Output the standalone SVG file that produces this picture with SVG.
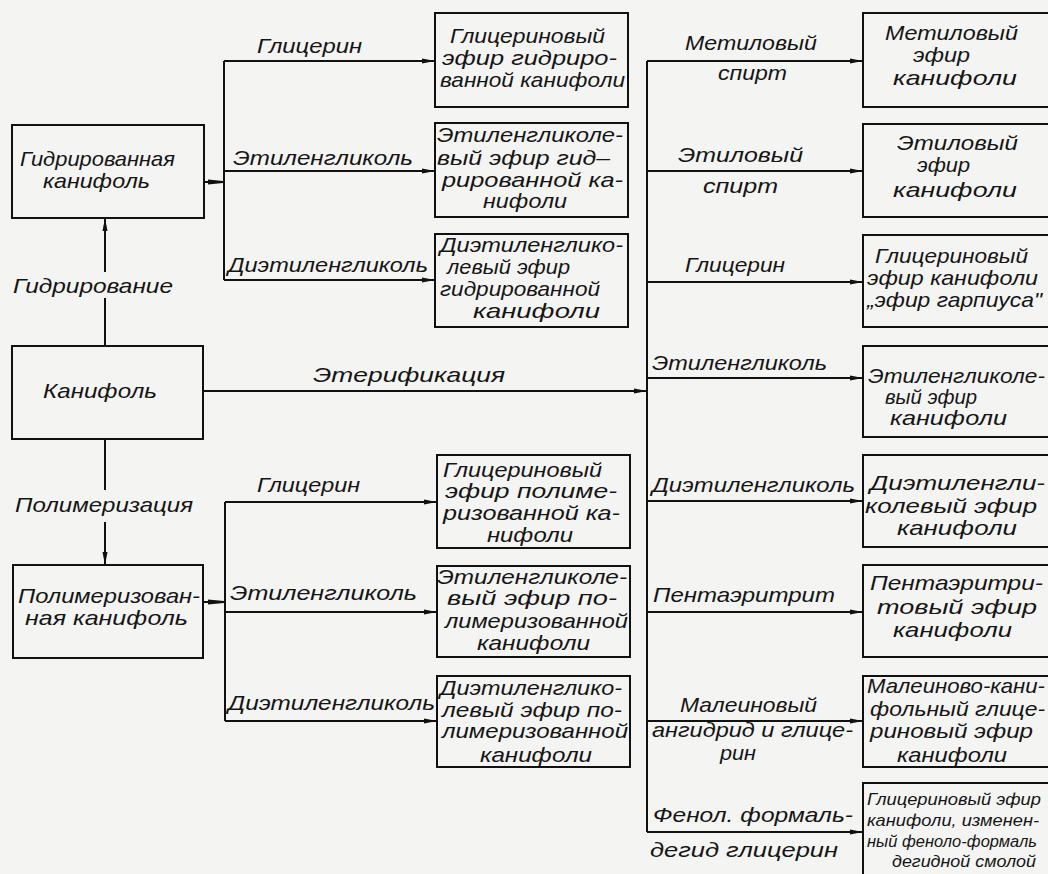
<svg xmlns="http://www.w3.org/2000/svg" width="1048" height="874" viewBox="0 0 1048 874">
<defs>
<marker id="ah" markerUnits="userSpaceOnUse" markerWidth="14" markerHeight="8" refX="13" refY="4" orient="auto">
<path d="M0,1.5 L13,4 L0,6.5 z" fill="#111"/>
</marker>
<style>
.bg{fill:#f4f4f2}
.box{fill:none;stroke:#111;stroke-width:2}
.ln{fill:none;stroke:#111;stroke-width:2}
.stub{fill:#111}
text{font-family:"Liberation Sans","DejaVu Sans",sans-serif;font-style:italic;font-size:21px;fill:#151515}
.sm{font-size:17px}
</style>
</defs>
<rect class="bg" x="0" y="0" width="1048" height="874"/>

<g id="connectors">
<path class="ln" d="M204,182 H224 M224,61 V280"/>
<polygon class="stub" points="208,179.5 223,181 223,183 208,184.5"/>
<path class="ln" marker-end="url(#ah)" d="M224,61 H435"/>
<path class="ln" marker-end="url(#ah)" d="M224,171 H435"/>
<path class="ln" marker-end="url(#ah)" d="M224,280 H435"/>

<path class="ln" d="M204,602 H225 M225,502 V721"/>
<polygon class="stub" points="208,599.5 224,601 224,603 208,604.5"/>
<path class="ln" marker-end="url(#ah)" d="M225,502 H437"/>
<path class="ln" marker-end="url(#ah)" d="M225,612 H437"/>
<path class="ln" marker-end="url(#ah)" d="M225,721 H437"/>

<path class="ln" d="M105,346 V298"/>
<path class="ln" marker-end="url(#ah)" d="M105,272 V218"/>
<path class="ln" d="M105,439 V490"/>
<path class="ln" marker-end="url(#ah)" d="M105,522 V565"/>

<path class="ln" marker-end="url(#ah)" d="M204,391 H647"/>
<path class="ln" d="M647,61 V832"/>
<path class="ln" marker-end="url(#ah)" d="M647,61 H863"/>
<path class="ln" marker-end="url(#ah)" d="M647,171 H863"/>
<path class="ln" marker-end="url(#ah)" d="M647,282 H863"/>
<path class="ln" marker-end="url(#ah)" d="M647,378 H863"/>
<path class="ln" marker-end="url(#ah)" d="M647,501 H863"/>
<path class="ln" marker-end="url(#ah)" d="M647,612 H863"/>
<path class="ln" marker-end="url(#ah)" d="M647,721 H863"/>
<path class="ln" marker-end="url(#ah)" d="M647,832 H863"/>

<g id="edge-labels">
<text x="257" y="53" textLength="105" lengthAdjust="spacingAndGlyphs">Глицерин</text>
<text x="233" y="165" textLength="180" lengthAdjust="spacingAndGlyphs">Этиленгликоль</text>
<text x="228" y="272" textLength="200" lengthAdjust="spacingAndGlyphs">Диэтиленгликоль</text>
<text x="13" y="293" textLength="160" lengthAdjust="spacingAndGlyphs">Гидрирование</text>
<text x="313" y="382" textLength="192" lengthAdjust="spacingAndGlyphs">Этерификация</text>
<text x="15" y="512" textLength="178" lengthAdjust="spacingAndGlyphs">Полимеризация</text>
<text x="257" y="492" textLength="103" lengthAdjust="spacingAndGlyphs">Глицерин</text>
<text x="230" y="600" textLength="187" lengthAdjust="spacingAndGlyphs">Этиленгликоль</text>
<text x="228" y="710" textLength="207" lengthAdjust="spacingAndGlyphs">Диэтиленгликоль</text>

<text x="685" y="50" textLength="132" lengthAdjust="spacingAndGlyphs">Метиловый</text>
<text x="718" y="80" textLength="69" lengthAdjust="spacingAndGlyphs">спирт</text>
<text x="678" y="162" textLength="125" lengthAdjust="spacingAndGlyphs">Этиловый</text>
<text x="703" y="193" textLength="75" lengthAdjust="spacingAndGlyphs">спирт</text>
<text x="685" y="272" textLength="100" lengthAdjust="spacingAndGlyphs">Глицерин</text>
<text x="652" y="370" textLength="175" lengthAdjust="spacingAndGlyphs">Этиленгликоль</text>
<text x="652" y="492" textLength="203" lengthAdjust="spacingAndGlyphs">Диэтиленгликоль</text>
<text x="653" y="602" textLength="182" lengthAdjust="spacingAndGlyphs">Пентаэритрит</text>
<text x="680" y="712" textLength="137" lengthAdjust="spacingAndGlyphs">Малеиновый</text>
<text x="652" y="737" textLength="201" lengthAdjust="spacingAndGlyphs">ангидрид и глице-</text>
<text x="720" y="760" textLength="36" lengthAdjust="spacingAndGlyphs">рин</text>
<text x="653" y="822" textLength="200" lengthAdjust="spacingAndGlyphs">Фенол. формаль-</text>
<text x="650" y="857" textLength="188" lengthAdjust="spacingAndGlyphs">дегид глицерин</text>
</g>
</g>

<g id="n-hydro">
<rect class="box" x="12" y="125" width="192" height="93"/>
<text x="20" y="166" textLength="155" lengthAdjust="spacingAndGlyphs">Гидрированная</text>
<text x="43" y="188" textLength="107" lengthAdjust="spacingAndGlyphs">канифоль</text>
</g>
<g id="n-rosin">
<rect class="box" x="12" y="346" width="191" height="93"/>
<text x="43" y="398" textLength="114" lengthAdjust="spacingAndGlyphs">Канифоль</text>
</g>
<g id="n-poly">
<rect class="box" x="13" y="565" width="190" height="93"/>
<text x="18" y="603" textLength="182" lengthAdjust="spacingAndGlyphs">Полимеризован-</text>
<text x="25" y="625" textLength="163" lengthAdjust="spacingAndGlyphs">ная канифоль</text>
</g>

<g id="m1">
<rect class="box" x="435" y="13" width="193" height="94"/>
<text x="450" y="43" textLength="155" lengthAdjust="spacingAndGlyphs">Глицериновый</text>
<text x="442" y="65" textLength="175" lengthAdjust="spacingAndGlyphs">эфир гидриро-</text>
<text x="440" y="87" textLength="185" lengthAdjust="spacingAndGlyphs">ванной канифоли</text>
</g>
<g id="m2">
<rect class="box" x="435" y="123" width="193" height="94"/>
<text x="437" y="142" textLength="186" lengthAdjust="spacingAndGlyphs">Этиленгликоле-</text>
<text x="437" y="165" textLength="173" lengthAdjust="spacingAndGlyphs">вый эфир гид–</text>
<text x="442" y="187" textLength="181" lengthAdjust="spacingAndGlyphs">рированной ка-</text>
<text x="483" y="208" textLength="84" lengthAdjust="spacingAndGlyphs">нифоли</text>
</g>
<g id="m3">
<rect class="box" x="435" y="234" width="193" height="93"/>
<text x="440" y="252" textLength="183" lengthAdjust="spacingAndGlyphs">Диэтиленглико-</text>
<text x="447" y="274" textLength="123" lengthAdjust="spacingAndGlyphs">левый эфир</text>
<text x="440" y="296" textLength="160" lengthAdjust="spacingAndGlyphs">гидрированной</text>
<text x="473" y="318" textLength="127" lengthAdjust="spacingAndGlyphs">канифоли</text>
</g>
<g id="m4">
<rect class="box" x="437" y="455" width="193" height="93"/>
<text x="443" y="477" textLength="159" lengthAdjust="spacingAndGlyphs">Глицериновый</text>
<text x="445" y="498" textLength="172" lengthAdjust="spacingAndGlyphs">эфир полиме-</text>
<text x="443" y="520" textLength="177" lengthAdjust="spacingAndGlyphs">ризованной ка-</text>
<text x="487" y="542" textLength="86" lengthAdjust="spacingAndGlyphs">нифоли</text>
</g>
<g id="m5">
<rect class="box" x="437" y="566" width="193" height="91"/>
<text x="437" y="584" textLength="190" lengthAdjust="spacingAndGlyphs">Этиленгликоле-</text>
<text x="447" y="605" textLength="170" lengthAdjust="spacingAndGlyphs">вый эфир по-</text>
<text x="445" y="628" textLength="183" lengthAdjust="spacingAndGlyphs">лимеризованной</text>
<text x="477" y="650" textLength="113" lengthAdjust="spacingAndGlyphs">канифоли</text>
</g>
<g id="m6">
<rect class="box" x="437" y="676" width="193" height="91"/>
<text x="440" y="695" textLength="182" lengthAdjust="spacingAndGlyphs">Диэтиленглико-</text>
<text x="442" y="717" textLength="180" lengthAdjust="spacingAndGlyphs">левый эфир по-</text>
<text x="442" y="738" textLength="186" lengthAdjust="spacingAndGlyphs">лимеризованной</text>
<text x="480" y="762" textLength="112" lengthAdjust="spacingAndGlyphs">канифоли</text>
</g>

<g id="r1">
<path class="box" d="M1048,13 H863 V107 H1048"/>
<text x="885" y="40" textLength="133" lengthAdjust="spacingAndGlyphs">Метиловый</text>
<text x="913" y="62" textLength="57" lengthAdjust="spacingAndGlyphs">эфир</text>
<text x="893" y="85" textLength="124" lengthAdjust="spacingAndGlyphs">канифоли</text>
</g>
<g id="r2">
<path class="box" d="M1048,124 H863 V217 H1048"/>
<text x="897" y="150" textLength="121" lengthAdjust="spacingAndGlyphs">Этиловый</text>
<text x="917" y="172" textLength="53" lengthAdjust="spacingAndGlyphs">эфир</text>
<text x="893" y="197" textLength="124" lengthAdjust="spacingAndGlyphs">канифоли</text>
</g>
<g id="r3">
<path class="box" d="M1048,235 H863 V327 H1048"/>
<text x="875" y="263" textLength="153" lengthAdjust="spacingAndGlyphs">Глицериновый</text>
<text x="867" y="285" textLength="171" lengthAdjust="spacingAndGlyphs">эфир канифоли</text>
<text x="867" y="307" textLength="175" lengthAdjust="spacingAndGlyphs">„эфир гарпиуса"</text>
</g>
<g id="r4">
<path class="box" d="M1048,346 H863 V437 H1048"/>
<text x="868" y="383" textLength="177" lengthAdjust="spacingAndGlyphs">Этиленгликоле-</text>
<text x="885" y="404" textLength="92" lengthAdjust="spacingAndGlyphs">вый эфир</text>
<text x="890" y="425" textLength="117" lengthAdjust="spacingAndGlyphs">канифоли</text>
</g>
<g id="r5">
<path class="box" d="M1048,455 H863 V547 H1048"/>
<text x="870" y="490" textLength="175" lengthAdjust="spacingAndGlyphs">Диэтиленгли-</text>
<text x="865" y="513" textLength="172" lengthAdjust="spacingAndGlyphs">колевый эфир</text>
<text x="897" y="535" textLength="120" lengthAdjust="spacingAndGlyphs">канифоли</text>
</g>
<g id="r6">
<path class="box" d="M1048,565 H863 V657 H1048"/>
<text x="870" y="590" textLength="173" lengthAdjust="spacingAndGlyphs">Пентаэритри-</text>
<text x="877" y="614" textLength="160" lengthAdjust="spacingAndGlyphs">товый эфир</text>
<text x="893" y="637" textLength="119" lengthAdjust="spacingAndGlyphs">канифоли</text>
</g>
<g id="r7">
<path class="box" d="M1048,676 H863 V767 H1048"/>
<text x="867" y="693" textLength="178" lengthAdjust="spacingAndGlyphs">Малеиново-кани-</text>
<text x="870" y="716" textLength="175" lengthAdjust="spacingAndGlyphs">фольный глице-</text>
<text x="870" y="738" textLength="163" lengthAdjust="spacingAndGlyphs">риновый эфир</text>
<text x="897" y="762" textLength="110" lengthAdjust="spacingAndGlyphs">канифоли</text>
</g>
<g id="r8">
<path class="box" d="M1048,783 H863 V874"/>
<text class="sm" x="867" y="805" textLength="174" lengthAdjust="spacingAndGlyphs">Глицериновый эфир</text>
<text class="sm" x="867" y="826" textLength="172" lengthAdjust="spacingAndGlyphs">канифоли, изменен-</text>
<text class="sm" x="867" y="847" textLength="170" lengthAdjust="spacingAndGlyphs">ный феноло-формаль</text>
<text class="sm" x="892" y="867" textLength="144" lengthAdjust="spacingAndGlyphs">дегидной смолой</text>
</g>
</svg>
